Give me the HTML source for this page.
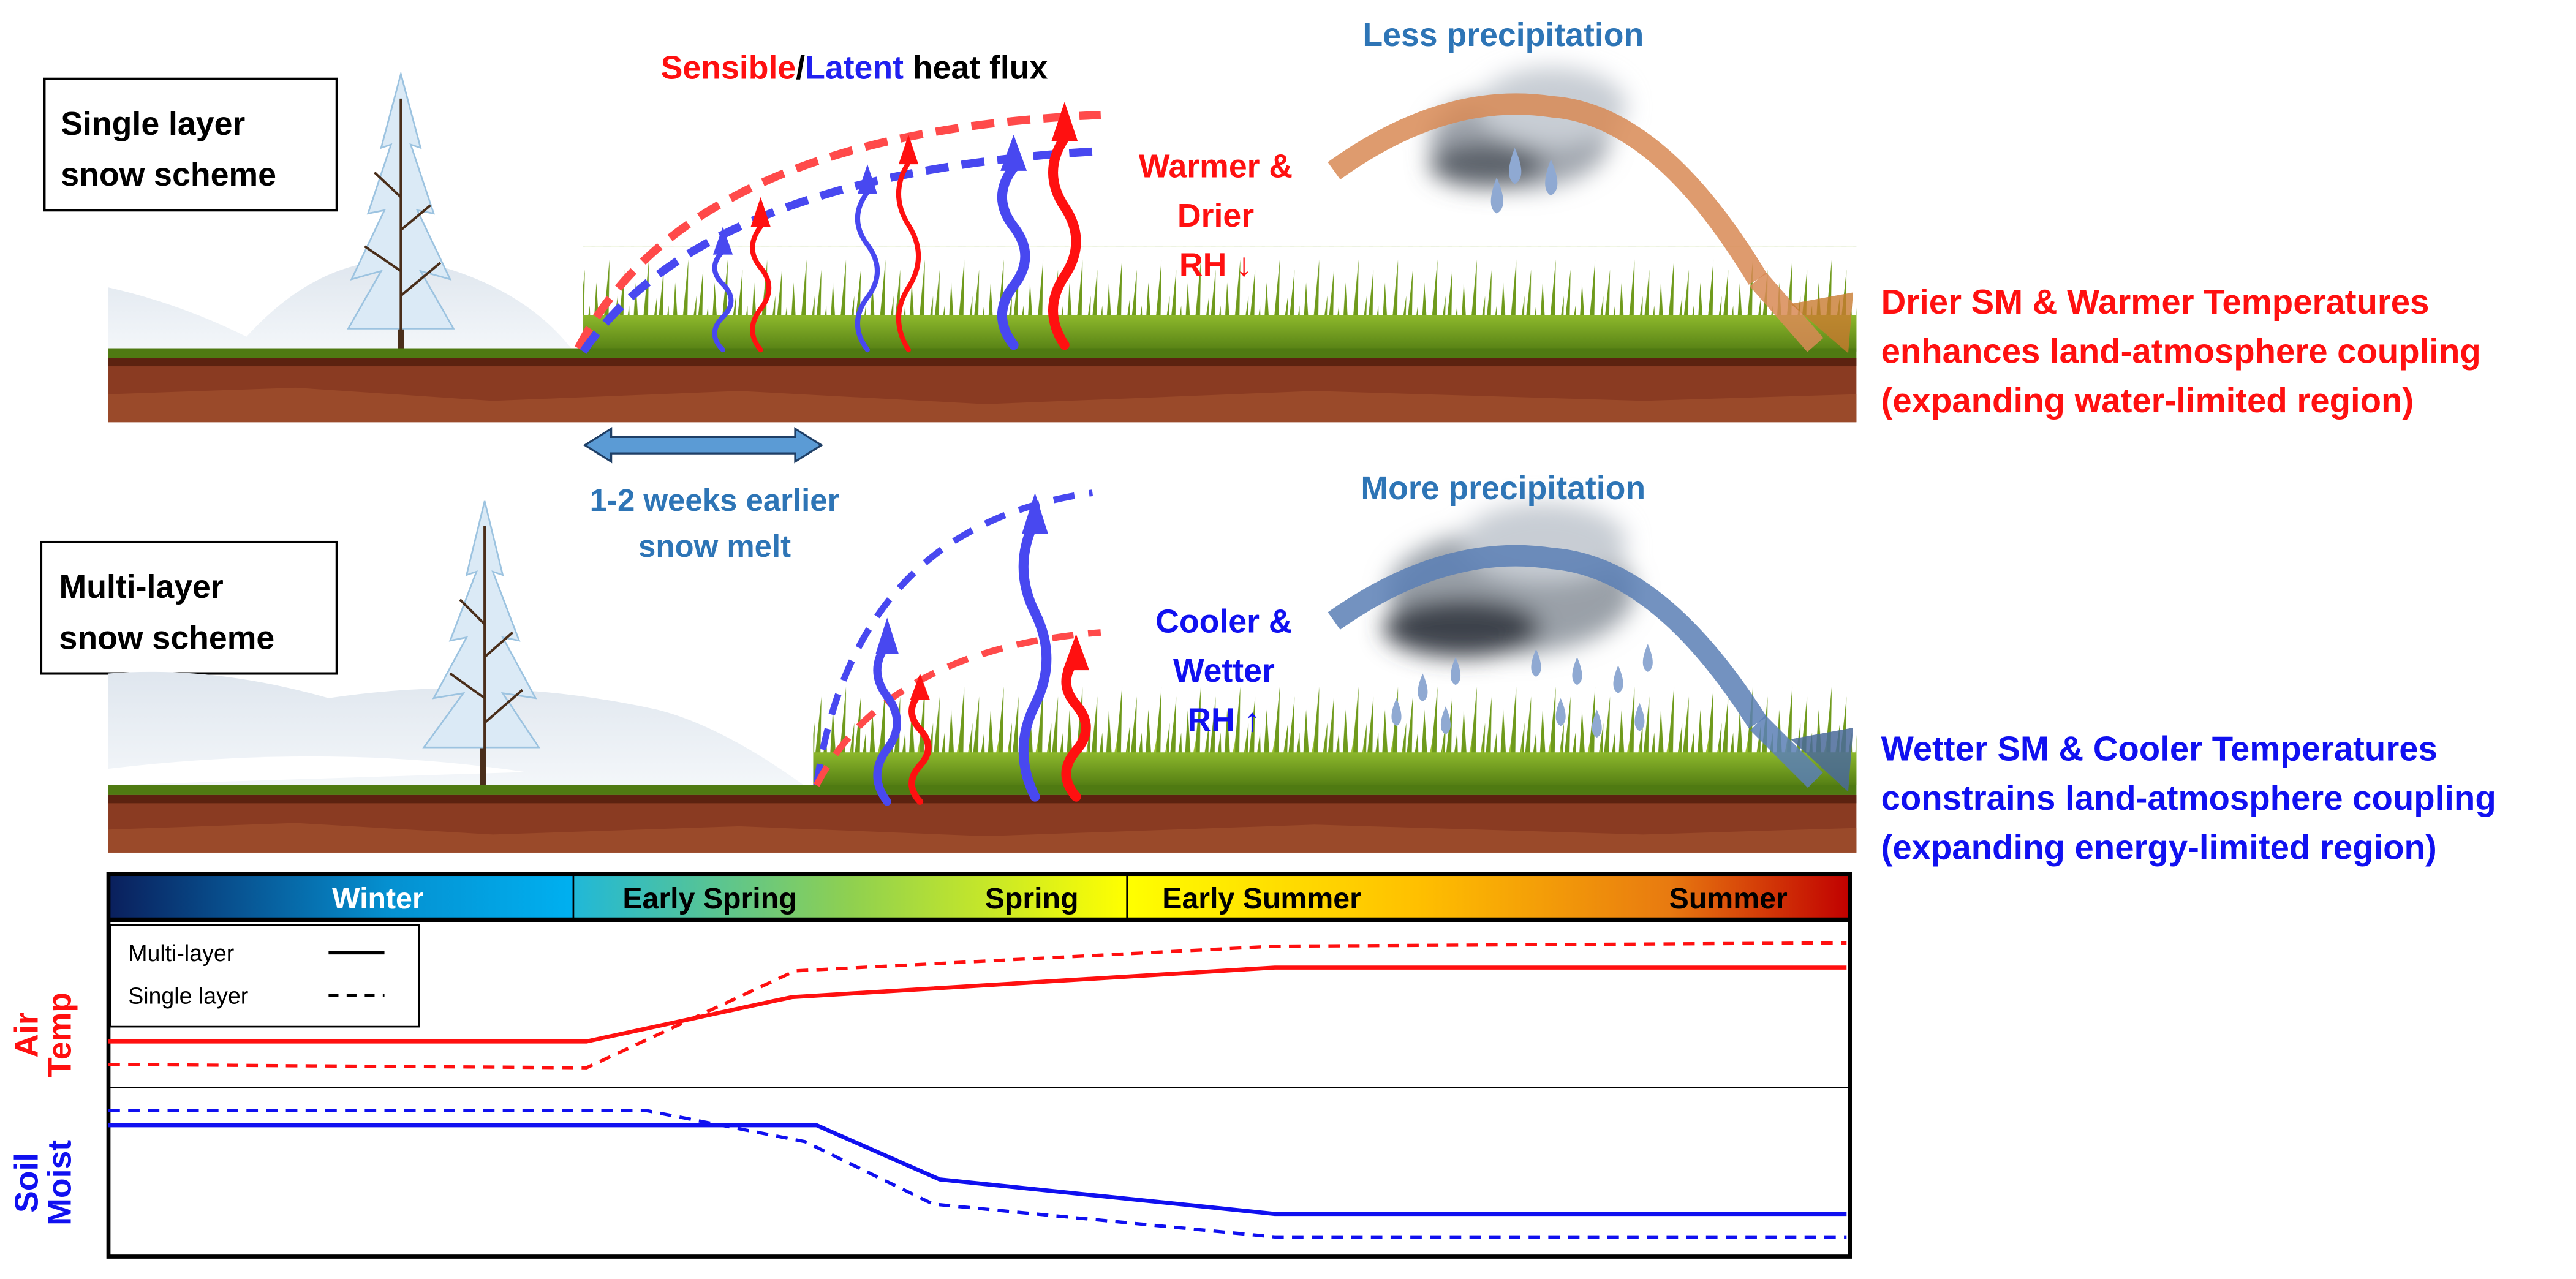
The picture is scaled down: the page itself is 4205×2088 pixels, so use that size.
<!DOCTYPE html>
<html><head><meta charset="utf-8"><style>
html,body{margin:0;padding:0;background:#fff;}
svg{display:block;}
text{font-family:"Liberation Sans",sans-serif;font-weight:bold;}
</style></head><body>
<svg width="4205" height="2088" viewBox="0 0 1568 778.6" xmlns="http://www.w3.org/2000/svg">
<defs>
<pattern id="grassT" x="0" y="150" width="24" height="70" patternUnits="userSpaceOnUse">
<path d="M0 70 L3 22 L6 70 Z M5 70 L11 8 L10 70 Z M10 70 L16 30 L15 70 Z M14 70 L20 14 L19 70 Z M18 70 L23 36 L24 70 Z" fill="#6f9a1c"/>
<path d="M2 70 L8 40 L7 70 Z M12 70 L14 44 L17 70 Z M20 70 L22 48 L24 70Z" fill="#9bbf32"/>
</pattern>
<pattern id="grassB" x="0" y="410" width="24" height="70" patternUnits="userSpaceOnUse">
<path d="M0 70 L3 22 L6 70 Z M5 70 L11 8 L10 70 Z M10 70 L16 30 L15 70 Z M14 70 L20 14 L19 70 Z M18 70 L23 36 L24 70 Z" fill="#6f9a1c"/>
<path d="M2 70 L8 40 L7 70 Z M12 70 L14 44 L17 70 Z M20 70 L22 48 L24 70Z" fill="#9bbf32"/>
</pattern>
<linearGradient id="gb" x1="0" y1="0" x2="0" y2="1"><stop offset="0" stop-color="#8db82c"/><stop offset="1" stop-color="#557f14"/></linearGradient>
<linearGradient id="snow" x1="0" y1="0" x2="0" y2="1"><stop offset="0" stop-color="#dfe6ee"/><stop offset="1" stop-color="#f4f7fa"/></linearGradient>
<linearGradient id="win" x1="0" x2="1"><stop offset="0" stop-color="#0a1f5c"/><stop offset="0.6" stop-color="#0590d0"/><stop offset="1" stop-color="#00b0f0"/></linearGradient>
<linearGradient id="spr" x1="0" x2="1"><stop offset="0" stop-color="#20b8d8"/><stop offset="0.5" stop-color="#8fd050"/><stop offset="1" stop-color="#ffff00"/></linearGradient>
<linearGradient id="sum" x1="0" x2="1"><stop offset="0" stop-color="#ffff00"/><stop offset="0.4" stop-color="#ffc000"/><stop offset="0.75" stop-color="#e87a10"/><stop offset="1" stop-color="#c00000"/></linearGradient>
<filter id="blur" x="-30%" y="-30%" width="160%" height="160%"><feGaussianBlur stdDeviation="7"/></filter>
</defs>

<!-- ===== TOP SCENE ===== -->
<rect x="27" y="48" width="178" height="80" fill="#fff" stroke="#000" stroke-width="1.5"/>
<text x="37" y="82" font-size="20">Single layer</text>
<text x="37" y="113" font-size="20">snow scheme</text>

<path d="M66 175 Q110 185 150 205 Q200 150 260 160 Q320 175 350 215 L66 215 Z" fill="url(#snow)"/>
<g>
<rect x="242" y="110" width="4" height="105" fill="#4a2e1a"/>
<path d="M244 45 L232 90 L238 88 L224 130 L234 128 L214 170 L232 165 L212 200 L276 200 L256 165 L274 170 L254 128 L264 130 L250 88 L256 90 Z" fill="#dbeaf6" stroke="#9cc3e0" stroke-width="1"/>
<path d="M244 60 L244 205 M244 120 L228 105 M244 140 L262 125 M244 165 L222 150 M244 180 L268 160" stroke="#4a2e1a" stroke-width="1.5" fill="none"/>
</g>
<rect x="355" y="150" width="775" height="62" fill="url(#grassT)"/>
<rect x="355" y="192" width="775" height="22" fill="url(#gb)"/>
<rect x="66" y="212" width="1064" height="6" fill="#4f7a12"/>
<rect x="66" y="218" width="1064" height="39" fill="#8a3b22"/>
<rect x="66" y="218" width="1064" height="5" fill="#5c2210"/>
<path d="M66 240 L180 236 L300 244 L450 238 L600 246 L800 238 L1000 244 L1130 240 L1130 257 L66 257Z" fill="#9a4a2a"/>

<g filter="url(#blur)">
<ellipse cx="925" cy="85" rx="55" ry="30" fill="#a0a6ae"/>
<ellipse cx="945" cy="65" rx="45" ry="24" fill="#c8cdd4"/>
<ellipse cx="905" cy="100" rx="35" ry="14" fill="#5d636c"/>
</g>
<path d="M922 90 Q915 108 922 112 Q930 108 922 90Z M944 97 Q937 115 944 119 Q952 115 944 97Z M911 108 Q904 126 911 130 Q919 126 911 108Z" fill="#8fa9d2"/>
<path d="M812 104 Q880 55 945 65 Q1010 70 1070 170" fill="none" stroke="#d88a55" stroke-opacity="0.85" stroke-width="13"/>
<path d="M1070 170 L1105 210" fill="none" stroke="#d88a55" stroke-opacity="0.85" stroke-width="13"/>
<polygon points="1090,185 1128,178 1125,215" fill="#c87a30" fill-opacity="0.8"/>

<path d="M352 212 Q420 80 670 70" fill="none" stroke="#ff4a4a" stroke-width="5" stroke-dasharray="14,8"/>
<path d="M355 214 Q430 105 670 92" fill="none" stroke="#4848f0" stroke-width="5" stroke-dasharray="14,8"/>

<g fill="none" stroke-linecap="round">
<path d="M440 213 q-10 -10 0 -20 t0 -20 t0 -20" stroke="#4848f0" stroke-width="3"/>
<path d="M463 213 q-10 -12 0 -25 t0 -25 t0 -25" stroke="#ff1010" stroke-width="3"/>
<path d="M528 213 q-12 -16 0 -32 t0 -32 t0 -32" stroke="#4848f0" stroke-width="3"/>
<path d="M553 213 q-12 -19 0 -38 t0 -38 t0 -38" stroke="#ff1010" stroke-width="3"/>
<path d="M617 210 q-14 -18 0 -36 t0 -36 t0 -36" stroke="#4848f0" stroke-width="6"/>
<path d="M648 210 q-14 -21 0 -42 t0 -42 t0 -42" stroke="#ff1010" stroke-width="6"/>
</g>
<polygon points="434,155 440,138 446,155" fill="#4848f0"/>
<polygon points="457,138 463,120 469,138" fill="#ff1010"/>
<polygon points="522,118 528,100 534,118" fill="#4848f0"/>
<polygon points="547,100 553,82 559,100" fill="#ff1010"/>
<polygon points="609,104 617,82 625,104" fill="#4848f0"/>
<polygon points="640,86 648,62 656,86" fill="#ff1010"/>

<text x="520" y="48" font-size="20" text-anchor="middle"><tspan fill="#ff1010">Sensible</tspan><tspan fill="#000">/</tspan><tspan fill="#2020f0">Latent</tspan><tspan fill="#000"> heat flux</tspan></text>
<text x="915" y="28" font-size="20" fill="#2e75b6" text-anchor="middle">Less precipitation</text>
<text x="740" y="108" font-size="20" fill="#ff1010" text-anchor="middle">Warmer &amp;</text>
<text x="740" y="138" font-size="20" fill="#ff1010" text-anchor="middle">Drier</text>
<text x="740" y="168" font-size="20" fill="#ff1010" text-anchor="middle">RH ↓</text>
<text x="1145" y="191" font-size="21" fill="#ff1010">Drier SM &amp; Warmer Temperatures</text>
<text x="1145" y="221" font-size="21" fill="#ff1010">enhances land-atmosphere coupling</text>
<text x="1145" y="251" font-size="21" fill="#ff1010">(expanding water-limited region)</text>

<polygon points="356,271 372,261 372,266 484,266 484,261 500,271 484,281 484,276 372,276 372,281" fill="#5b9bd5" stroke="#1f3f66" stroke-width="1.2"/>
<text x="435" y="311" font-size="19" fill="#2e75b6" text-anchor="middle">1-2 weeks earlier</text>
<text x="435" y="339" font-size="19" fill="#2e75b6" text-anchor="middle">snow melt</text>

<!-- ===== BOTTOM SCENE ===== -->
<rect x="25" y="330" width="180" height="80" fill="#fff" stroke="#000" stroke-width="1.5"/>
<text x="36" y="364" font-size="20">Multi-layer</text>
<text x="36" y="395" font-size="20">snow scheme</text>

<path d="M66 410 Q130 405 200 425 Q300 410 400 432 Q440 442 492 480 L66 480 Z" fill="url(#snow)"/>
<path d="M66 468 Q200 452 320 470 L66 478Z" fill="#fff"/>
<g>
<rect x="292" y="380" width="4" height="100" fill="#4a2e1a"/>
<path d="M295 305 L284 350 L290 348 L274 390 L284 388 L264 425 L282 422 L258 455 L328 455 L306 422 L326 425 L306 388 L316 390 L300 348 L306 350 Z" fill="#dbeaf6" stroke="#9cc3e0" stroke-width="1"/>
<path d="M295 320 L295 470 M295 380 L280 365 M295 400 L312 385 M295 425 L274 410 M295 440 L318 420" stroke="#4a2e1a" stroke-width="1.5" fill="none"/>
</g>
<rect x="495" y="412" width="635" height="66" fill="url(#grassB)"/>
<rect x="495" y="458" width="635" height="20" fill="url(#gb)"/>
<rect x="66" y="478" width="1064" height="6" fill="#4f7a12"/>
<rect x="66" y="484" width="1064" height="35" fill="#8a3b22"/>
<rect x="66" y="484" width="1064" height="5" fill="#5c2210"/>
<path d="M66 505 L180 501 L300 508 L450 503 L600 509 L800 502 L1000 508 L1130 504 L1130 519 L66 519Z" fill="#9a4a2a"/>

<g filter="url(#blur)">
<ellipse cx="920" cy="360" rx="75" ry="38" fill="#9aa0a8"/>
<ellipse cx="940" cy="330" rx="50" ry="24" fill="#c8cdd4"/>
<ellipse cx="890" cy="382" rx="48" ry="18" fill="#3d434c"/>
</g>
<g fill="#8fa9d2">
<path d="M866 410 q-6 14 0 17 q6 -3 0 -17Z M886 400 q-6 14 0 17 q6 -3 0 -17Z M850 425 q-6 14 0 17 q6 -3 0 -17Z M880 430 q-6 14 0 17 q6 -3 0 -17Z M935 395 q-6 14 0 17 q6 -3 0 -17Z M960 400 q-6 14 0 17 q6 -3 0 -17Z M985 405 q-6 14 0 17 q6 -3 0 -17Z M1003 392 q-6 14 0 17 q6 -3 0 -17Z M950 425 q-6 14 0 17 q6 -3 0 -17Z M972 432 q-6 14 0 17 q6 -3 0 -17Z M998 428 q-6 14 0 17 q6 -3 0 -17Z"/>
</g>
<path d="M812 378 Q880 330 945 340 Q1010 345 1070 440" fill="none" stroke="#5a7fb5" stroke-opacity="0.85" stroke-width="13"/>
<path d="M1070 440 L1105 475" fill="none" stroke="#5a7fb5" stroke-opacity="0.85" stroke-width="13"/>
<polygon points="1090,450 1128,443 1125,482" fill="#4a6a9a" fill-opacity="0.85"/>

<path d="M497 478 Q520 320 665 300" fill="none" stroke="#4848f0" stroke-width="4" stroke-dasharray="13,9"/>
<path d="M497 478 Q540 395 670 385" fill="none" stroke="#ff4a4a" stroke-width="4" stroke-dasharray="13,9"/>

<g fill="none" stroke-linecap="round">
<path d="M540 488 q-12 -16 0 -32 t0 -32 t0 -32" stroke="#4848f0" stroke-width="5"/>
<path d="M560 488 q-10 -11 0 -22 t0 -22 t0 -22" stroke="#ff1010" stroke-width="4"/>
<path d="M630 485 q-14 -28 0 -56 t0 -56 t0 -56" stroke="#4848f0" stroke-width="6"/>
<path d="M655 485 q-12 -14 0 -28 t0 -28 t0 -28" stroke="#ff1010" stroke-width="6"/>
</g>
<polygon points="533,398 540,376 547,398" fill="#4848f0"/>
<polygon points="554,426 560,410 566,426" fill="#ff1010"/>
<polygon points="622,325 630,300 638,325" fill="#4848f0"/>
<polygon points="647,408 655,386 663,408" fill="#ff1010"/>

<text x="915" y="304" font-size="20" fill="#2e75b6" text-anchor="middle">More precipitation</text>
<text x="745" y="385" font-size="20" fill="#1010f0" text-anchor="middle">Cooler &amp;</text>
<text x="745" y="415" font-size="20" fill="#1010f0" text-anchor="middle">Wetter</text>
<text x="745" y="445" font-size="20" fill="#1010f0" text-anchor="middle">RH ↑</text>
<text x="1145" y="463" font-size="21" fill="#1010f0">Wetter SM &amp; Cooler Temperatures</text>
<text x="1145" y="493" font-size="21" fill="#1010f0">constrains land-atmosphere coupling</text>
<text x="1145" y="523" font-size="21" fill="#1010f0">(expanding energy-limited region)</text>

<!-- ===== CHART ===== -->
<rect x="66" y="532" width="283" height="28" fill="url(#win)"/>
<rect x="349" y="532" width="337" height="28" fill="url(#spr)"/>
<rect x="686" y="532" width="440" height="28" fill="url(#sum)"/>
<line x1="349" y1="532" x2="349" y2="560" stroke="#000" stroke-width="1"/>
<line x1="686" y1="532" x2="686" y2="560" stroke="#000" stroke-width="1"/>
<rect x="66" y="532" width="1060" height="233" fill="none" stroke="#000" stroke-width="2.5"/>
<line x1="66" y1="560" x2="1126" y2="560" stroke="#000" stroke-width="3"/>
<text x="230" y="553" font-size="18" fill="#fff" text-anchor="middle">Winter</text>
<text x="432" y="553" font-size="18" fill="#000" text-anchor="middle">Early Spring</text>
<text x="628" y="553" font-size="18" fill="#000" text-anchor="middle">Spring</text>
<text x="768" y="553" font-size="18" fill="#000" text-anchor="middle">Early Summer</text>
<text x="1052" y="553" font-size="18" fill="#000" text-anchor="middle">Summer</text>

<rect x="67" y="563" width="188" height="62" fill="#fff" stroke="#000" stroke-width="1"/>
<text x="78" y="585" font-size="14" style="font-weight:normal">Multi-layer</text>
<text x="78" y="611" font-size="14" style="font-weight:normal">Single layer</text>
<line x1="200" y1="580" x2="234" y2="580" stroke="#000" stroke-width="2"/>
<line x1="200" y1="606" x2="234" y2="606" stroke="#000" stroke-width="2" stroke-dasharray="6,5"/>

<line x1="66" y1="662" x2="1126" y2="662" stroke="#000" stroke-width="1"/>

<polyline points="66,634 357,634 482,607 776,589 1124,589" fill="none" stroke="#ff1010" stroke-width="2.5"/>
<polyline points="66,648 357,650 484,591 776,576 1124,574" fill="none" stroke="#ff1010" stroke-width="2" stroke-dasharray="7,5"/>
<polyline points="66,685 497,685 572,718 776,739 1124,739" fill="none" stroke="#1010f0" stroke-width="2.5"/>
<polyline points="66,676 393,676 490,695 568,733 776,753 1124,753" fill="none" stroke="#1010f0" stroke-width="2" stroke-dasharray="7,5"/>

<text transform="translate(23,630) rotate(-90)" font-size="20" fill="#ff1010" text-anchor="middle">Air</text>
<text transform="translate(43,630) rotate(-90)" font-size="20" fill="#ff1010" text-anchor="middle">Temp</text>
<text transform="translate(23,720) rotate(-90)" font-size="20" fill="#1010f0" text-anchor="middle">Soil</text>
<text transform="translate(43,720) rotate(-90)" font-size="20" fill="#1010f0" text-anchor="middle">Moist</text>
</svg>
</body></html>
